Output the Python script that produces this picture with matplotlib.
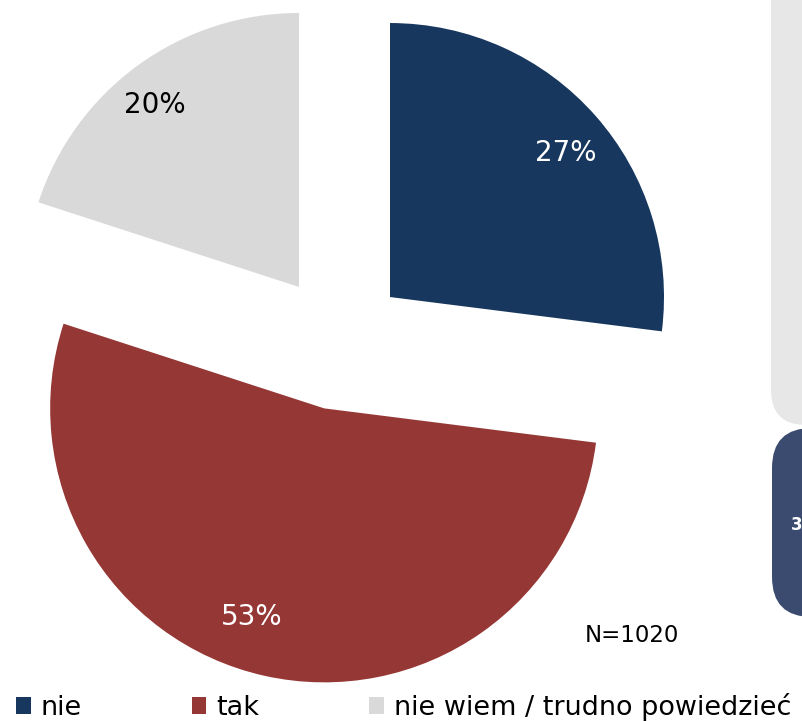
import matplotlib
matplotlib.use("Agg")
import matplotlib.pyplot as plt
from matplotlib.patches import FancyBboxPatch

categories = ["nie", "tak", "nie wiem / trudno powiedzieć"]
values = [27, 53, 20]
colors = ["#17375E", "#953735", "#D9D9D9"]
label_colors = ["white", "white", "black"]
note = "N=1020"

plt.rcParams['font.family'] = ['DejaVu Sans']

fig = plt.figure(figsize=(8.03, 7.21), dpi=100)
ax = fig.add_axes([0, 0, 1, 1])

wedges, texts, autotexts = ax.pie(
    values, explode=[68] * 3, colors=colors, startangle=90, counterclock=False,
    center=(339, 379), radius=274, autopct=lambda p: f"{p:.0f}%", pctdistance=0.81,
    textprops=dict(fontsize=20), wedgeprops=dict(linewidth=0))
# label placement as in the original slide
label_pos = [(566, 721 - 153), (252, 721 - 617), (155, 721 - 105)]
for t, c, p in zip(autotexts, label_colors, label_pos):
    t.set_color(c)
    t.set_position(p)

ax.set_xlim(0, 803)
ax.set_ylim(0, 721)
ax.set_aspect('equal')
ax.axis('off')

# cropped side panels
ax.add_patch(FancyBboxPatch((771, 721 - 425), 120, 520,
                            boxstyle="round,pad=0,rounding_size=35",
                            facecolor="#E7E7E7", edgecolor="none"))
ax.add_patch(FancyBboxPatch((772, 721 - 617), 120, 189,
                            boxstyle="round,pad=0,rounding_size=40",
                            facecolor="#3B4B70", edgecolor="none"))
ax.text(791, 721 - 525, "3", color="white", fontsize=12, fontweight="bold",
        ha="left", va="center")

ax.text(632, 721 - 636, note, fontsize=16.5, ha="center", va="center", color="black")

ax.legend(wedges, categories, loc="lower left", bbox_to_anchor=(16, 0),
          bbox_transform=ax.transData, ncol=3, frameon=False, fontsize=19.45,
          handlelength=0.55, handleheight=0.55, handletextpad=0.37,
          columnspacing=4.05, borderpad=0, borderaxespad=0)

fig.savefig("out.png", dpi=100)
